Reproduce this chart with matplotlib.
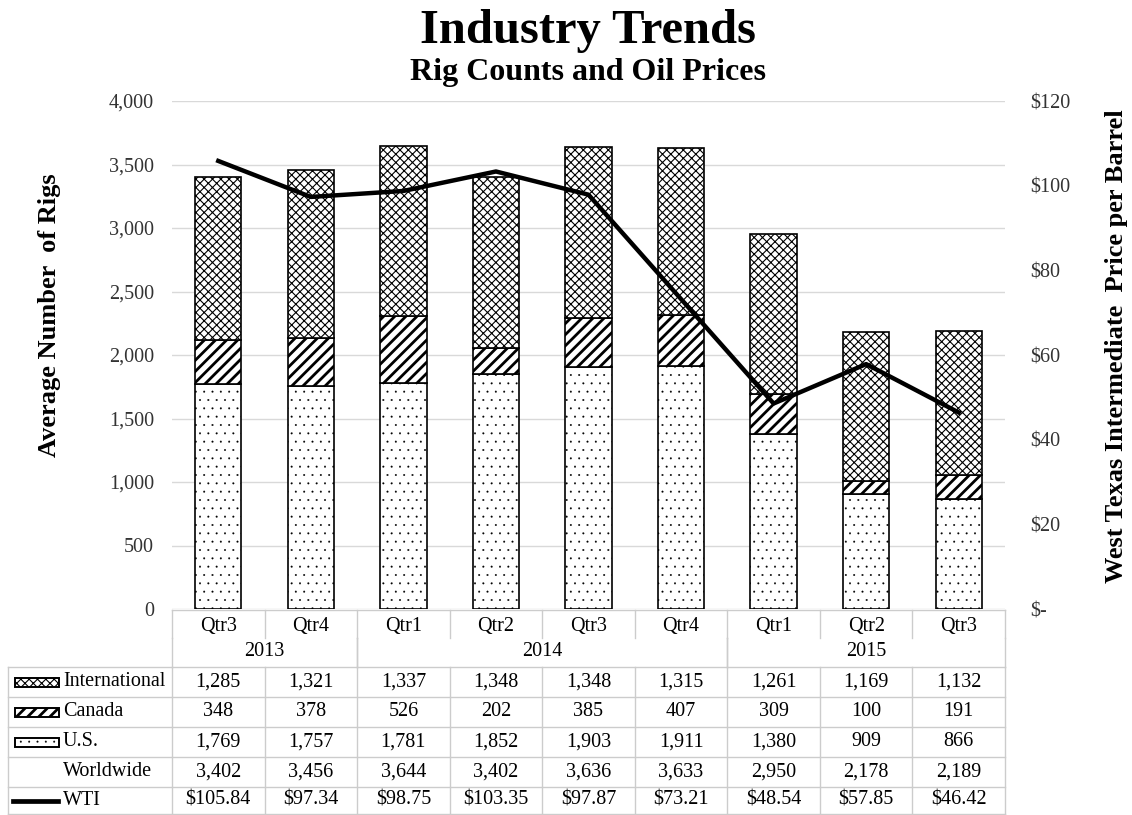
import matplotlib
matplotlib.use("Agg")
import matplotlib.pyplot as plt
from matplotlib.patches import Rectangle
from matplotlib.lines import Line2D
from matplotlib.transforms import blended_transform_factory

# === данные ===
quarters = ["Qtr3", "Qtr4", "Qtr1", "Qtr2", "Qtr3", "Qtr4", "Qtr1", "Qtr2", "Qtr3"]
years = ["2013", "2014", "2015"]
year_spans = [(0, 1), (2, 5), (6, 8)]
international = [1285, 1321, 1337, 1348, 1348, 1315, 1261, 1169, 1132]
canada = [348, 378, 526, 202, 385, 407, 309, 100, 191]
us = [1769, 1757, 1781, 1852, 1903, 1911, 1380, 909, 866]
worldwide = [3402, 3456, 3644, 3402, 3636, 3633, 2950, 2178, 2189]
wti = [105.84, 97.34, 98.75, 103.35, 97.87, 73.21, 48.54, 57.85, 46.42]
left_ticks = [0, 500, 1000, 1500, 2000, 2500, 3000, 3500, 4000]
right_ticks = [0, 20, 40, 60, 80, 100, 120]

plt.rcParams['font.family'] = ['Liberation Serif', 'DejaVu Serif']
plt.rcParams['hatch.color'] = 'black'

W, H = 1132, 815
fig = plt.figure(figsize=(W / 100, H / 100), dpi=100)
ax = fig.add_axes([172 / W, 1 - 609 / H, 833 / W, 508 / H])

def fy(py):
    return 1 - py / H

def fx(px):
    return px / W

HATCH_US = ('..', 0.2)
HATCH_CA = ('///', 2.0)
HATCH_INT = ('xxxx', 0.8)

x = list(range(len(quarters)))
bot2 = [u + c for u, c in zip(us, canada)]
series = [
    (us, [0] * len(us), HATCH_US),
    (canada, us, HATCH_CA),
    (international, bot2, HATCH_INT),
]
for vals, bottom, (hatch, hlw) in series:
    bars = ax.bar(x, vals, 0.5, bottom=bottom, color='white', edgecolor='black',
                  linewidth=1.2, hatch=hatch, zorder=2)
    for p in bars:
        if hasattr(p, 'set_hatch_linewidth'):
            p.set_hatch_linewidth(hlw)

ax.set_xlim(-0.5, 8.5)
ax.set_ylim(0, 4000)
ax.set_yticks(left_ticks)
ax.set_yticklabels([f"{v:,}" for v in left_ticks], fontsize=14.5, color='#333333')
ax.set_xticks([])
ax.tick_params(axis='y', length=0, pad=13)
ax.grid(axis='y', color='#d9d9d9', linewidth=1)
ax.set_axisbelow(True)
for s in ax.spines.values():
    s.set_visible(False)

ax2 = ax.twinx()
ax2.plot(x, wti, color='black', linewidth=3.2, zorder=3)
ax2.set_ylim(0, 120)
ax2.set_yticks(right_ticks)
ax2.set_yticklabels([f"${v}" if v else "$-" for v in right_ticks], fontsize=14.5,
                    color='#333333')
ax2.tick_params(axis='y', length=0, pad=18)
for s in ax2.spines.values():
    s.set_visible(False)

# заголовки
fig.text(fx(588), fy(43), "Industry Trends", ha='center', va='baseline',
         fontsize=35, fontweight='bold')
fig.text(fx(588), fy(80), "Rig Counts and Oil Prices", ha='center', va='baseline',
         fontsize=23, fontweight='bold')
fig.text(fx(50), fy(315), "Average Number  of Rigs", ha='center', va='center',
         rotation=90, fontsize=19, fontweight='bold')
fig.text(fx(1116), fy(346), "West Texas Intermediate  Price per Barrel", ha='center',
         va='center', rotation=90, fontsize=19, fontweight='bold')

# === таблица данных ===
tr = blended_transform_factory(ax.transData, fig.transFigure)
gc = '#cccccc'

def hline(py, x0, x1, transform):
    fig.add_artist(Line2D([x0, x1], [fy(py), fy(py)], color=gc, lw=1, transform=transform))

def vline(xx, py0, py1, transform):
    fig.add_artist(Line2D([xx, xx], [fy(py0), fy(py1)], color=gc, lw=1, transform=transform))

hline(610, -0.5, 8.5, tr)
row_tops = [667, 697, 727, 757, 787, 814]
for py in row_tops:
    hline(py, fx(8), fx(1005), fig.transFigure)
vline(fx(8), 667, 814, fig.transFigure)
for b in range(len(quarters) + 1):
    xb = b - 0.5
    vline(xb, 610, 638, tr)
    vline(xb, 667, 814, tr)
for a, b in year_spans:
    vline(a - 0.5, 638, 667, tr)
    vline(b + 0.5, 638, 667, tr)

fs = 14.5
for i, q in enumerate(quarters):
    fig.text(i, fy(627), q, transform=tr, ha='center', va='center', fontsize=fs)
for yr, (a, b) in zip(years, year_spans):
    fig.text((a + b) / 2, fy(651), yr, transform=tr, ha='center', va='center', fontsize=fs)

rows = [
    ("International", [f"{v:,}" for v in international], HATCH_INT),
    ("Canada", [f"{v:,}" for v in canada], HATCH_CA),
    ("U.S.", [f"{v:,}" for v in us], HATCH_US),
    ("Worldwide", [f"{v:,}" for v in worldwide], None),
    ("WTI", [f"${v:.2f}" for v in wti], 'line'),
]
for r, (label, cells, key) in enumerate(rows):
    yc = (row_tops[r] + row_tops[r + 1]) / 2
    if key == 'line':
        fig.add_artist(Line2D([fx(13), fx(58)], [fy(yc), fy(yc)], color='black', lw=3.4,
                              transform=fig.transFigure))
    elif key is not None:
        rect = Rectangle((fx(15), fy(yc + 4.5)), fx(44), 9 / H, transform=fig.transFigure,
                         facecolor='white', edgecolor='black', lw=1.4, hatch=key[0])
        if hasattr(rect, 'set_hatch_linewidth'):
            rect.set_hatch_linewidth(key[1])
        fig.add_artist(rect)
    fig.text(fx(63), fy(yc), label, ha='left', va='center', fontsize=fs)
    for i, c in enumerate(cells):
        fig.text(i, fy(yc), c, transform=tr, ha='center', va='center', fontsize=fs)

fig.savefig("out.png", dpi=100)
